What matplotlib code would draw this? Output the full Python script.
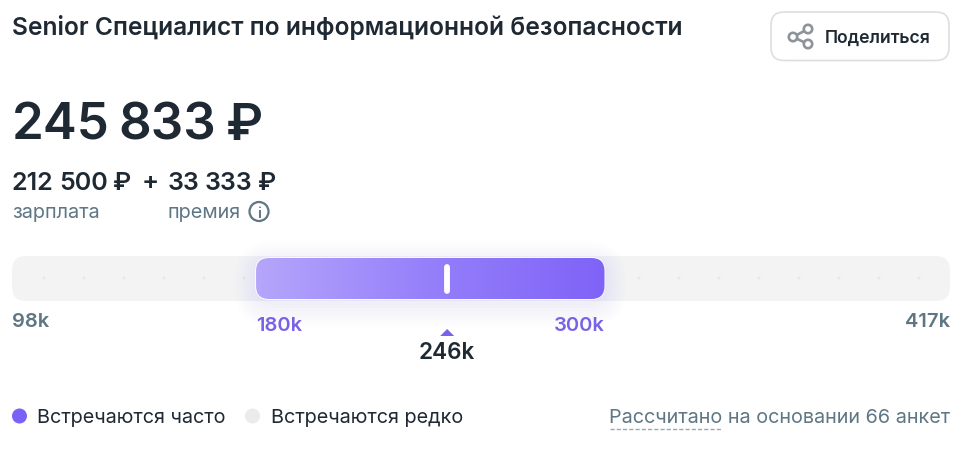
#!/usr/bin/env python3
import numpy as np
import matplotlib; matplotlib.use("Agg")
import matplotlib.pyplot as plt
from matplotlib.patches import FancyBboxPatch, Circle, Polygon
from matplotlib.colors import LinearSegmentedColormap

plt.rcParams['font.family'] = ['Inter', 'Noto Sans', 'DejaVu Sans']

# ---------- data ----------
TITLE = "Senior Специалист по информационной безопасности"
TOTAL = ["245", "833", "₽"]
SALARY = ["212", "500", "₽"]
BONUS = ["33", "333", "₽"]
SCALE_MIN, SCALE_MAX = 98, 417
RANGE_LOW, RANGE_HIGH = 181, 299.5      # real bar ends, labels are rounded
MEDIAN = 246
LABEL_MIN, LABEL_MAX = "98k", "417k"
LABEL_LOW, LABEL_HIGH = "180k", "300k"
LABEL_MEDIAN = "246k"
ANKET = 66

INK = "#1f2933"; MUTED = "#5f7684"; VIOLET = "#7a62e6"; TRACK = "#f3f3f4"

W, H = 969, 449
fig = plt.figure(figsize=(W/100, H/100), dpi=100, facecolor="white")
# whole picture in pixel coordinates
ax = fig.add_axes([0, 0, 1, 1])
ax.set_xlim(0, W); ax.set_ylim(H, 0); ax.axis("off")
# scale axes: x in thousands of roubles, placed over the track
TX0, TX1, TY0, TY1 = 12, 950, 256, 301
sc = fig.add_axes([TX0/W, 1-TY1/H, (TX1-TX0)/W, (TY1-TY0)/H], zorder=2)
sc.set_xlim(SCALE_MIN, SCALE_MAX); sc.set_ylim(1, 0); sc.axis("off")
sc.patch.set_alpha(0)

def px(v):
    return TX0 + (v-SCALE_MIN)/(SCALE_MAX-SCALE_MIN)*(TX1-TX0)

def txt(x, y, s, size, color=INK, weight="normal", ha="left"):
    return ax.text(x, y, s, fontsize=size*0.72, color=color, fontweight=weight,
                   ha=ha, va="baseline")

def rbox(x0, y0, x1, y1, r, **kw):
    p = FancyBboxPatch((x0+r, y0+r), x1-x0-2*r, y1-y0-2*r,
                       boxstyle="round,pad=%g,rounding_size=%g" % (r, r), **kw)
    ax.add_patch(p)
    return p

# ---------- header ----------
txt(12, 35, TITLE, 24.6, weight="semibold")
rbox(771, 12, 949, 60.5, 13, fc="white", ec="#dcdee0", lw=1.2)
for cx, cy in [(808, 29), (793, 37), (808, 44)]:
    ax.add_patch(Circle((cx, cy), 4.2, fc="white", ec="#8d9499", lw=1.9, zorder=3))
ax.plot([793, 808], [37, 29], color="#8d9499", lw=1.9, zorder=2)
ax.plot([793, 808], [37, 44], color="#8d9499", lw=1.9, zorder=2)
txt(825, 43, "Поделиться", 17.6, weight="semibold")

# the amounts have tighter spacing than the font, so the groups are placed one by one
for x, s in zip([12, 118, 226], TOTAL):
    txt(x, 140, s, 51, weight="semibold")
for x, s in zip([12, 59, 113], SALARY):
    txt(x, 190, s, 25, weight="semibold")
txt(142, 190, "+", 25.5, weight="semibold")
for x, s in zip([168, 205, 258], BONUS):
    txt(x, 190, s, 25, weight="semibold")
txt(12, 218, "зарплата", 19.9, MUTED)
txt(168, 218, "премия", 19.9, MUTED)
ax.add_patch(Circle((259, 211.5), 9.5, fc="none", ec=MUTED, lw=1.6))
txt(259, 217.5, "i", 15, MUTED, weight="semibold", ha="center")

# ---------- track ----------
rbox(TX0, TY0, TX1, TY1, 14, fc=TRACK, ec="none", zorder=1)
for x in list(range(44, 250, 40)) + list(range(639, 930, 40)):
    ax.add_patch(Circle((x, 278), 1.5, fc="#e8e8ea", ec="none", zorder=1.5))

# range bar, soft shadow, gradient and median tick on the scale axes
x0, x1 = px(RANGE_LOW), px(RANGE_HIGH)
for g in np.arange(24, 0, -3):
    rbox(x0-g+3, 258-g+8, x1+g-3, 299+g+3, 13+g, fc="#7b61f5", ec="none", alpha=0.011, zorder=1.7)
cmap = LinearSegmentedColormap.from_list("v", ["#b5a6fb", "#957ffa", "#7f63f7"])
grad = np.linspace(0, 1, 256)[None, :]
im = sc.imshow(grad, cmap=cmap, extent=[RANGE_LOW, RANGE_HIGH, 1, 0], aspect="auto", zorder=2)
sc.set_xlim(SCALE_MIN, SCALE_MAX); sc.set_ylim(1, 0)
clip = FancyBboxPatch((x0+13, 258+13), x1-x0-26, 41-26,
                      boxstyle="round,pad=13,rounding_size=13", transform=ax.transData,
                      fc="none", ec="none")
ax.add_patch(clip)
im.set_clip_path(clip)
outline = FancyBboxPatch((x0+13, 258+13), x1-x0-26, 41-26,
                         boxstyle="round,pad=13,rounding_size=13", transform=ax.transData,
                         fc="none", ec="white", lw=1.2)
sc.add_patch(outline)
sc.plot([MEDIAN, MEDIAN], [0.244, 0.78], color="white", lw=4.2, solid_capstyle="round", zorder=4)

# ---------- scale labels ----------
txt(px(SCALE_MIN), 327, LABEL_MIN, 20.2, MUTED, weight="semibold")
txt(px(SCALE_MAX), 327, LABEL_MAX, 20.2, MUTED, weight="semibold", ha="right")
txt(256, 331, LABEL_LOW, 20.2, VIOLET, weight="semibold")
txt(604.5, 331, LABEL_HIGH, 20.2, VIOLET, weight="semibold", ha="right")
m = px(MEDIAN)
ax.add_patch(Polygon([(m-7, 336), (m+7, 336), (m, 329)], fc=VIOLET, ec="none"))
txt(m, 359, LABEL_MEDIAN, 22.6, weight="semibold", ha="center")

# ---------- legend ----------
ax.add_patch(Circle((19.5, 416), 7.5, fc="#7b61f5", ec="none"))
txt(37, 423, "Встречаются часто", 19.8)
ax.add_patch(Circle((252.5, 416), 7.5, fc="#ebebec", ec="none"))
txt(271, 423, "Встречаются редко", 19.8)
txt(950, 423, "Рассчитано на основании %d анкет" % ANKET, 19.8, MUTED, ha="right")
ax.plot([610, 722], [428.5, 428.5], color="#9aa8b2", lw=1, ls=(0, (3, 1.5)))

fig.savefig("out.png", dpi=100, facecolor="white")
